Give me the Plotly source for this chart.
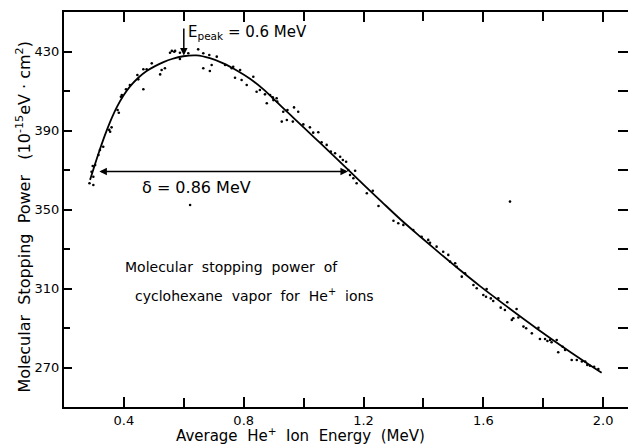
import plotly.graph_objects as go

# ---- data ----
curve_x = [0.287, 0.303, 0.320, 0.337, 0.354, 0.376, 0.398, 0.420, 0.448, 0.476,
           0.504, 0.532, 0.560, 0.598, 0.643, 0.687, 0.732, 0.777, 0.821, 0.866,
           0.910, 0.955, 1.000, 1.055, 1.111, 1.150, 1.200, 1.260, 1.322, 1.390,
           1.455, 1.520, 1.589, 1.667, 1.778, 1.889, 1.995]
curve_y = [365.0, 372.7, 380.5, 387.8, 394.4, 401.7, 407.6, 412.2, 416.7, 420.1,
           422.6, 424.6, 426.2, 427.6, 428.0, 426.6, 424.0, 420.4, 416.2, 410.8,
           404.5, 398.0, 391.6, 383.7, 375.6, 369.9, 362.6, 354.0, 345.2, 336.2,
           327.8, 319.6, 311.2, 302.2, 289.8, 278.0, 267.3]

dots_x = [0.285, 0.298, 0.298, 0.292, 0.296, 0.304, 0.315, 0.320, 0.331, 0.351,
          0.354, 0.359, 0.379, 0.383, 0.390, 0.393, 0.407, 0.420, 0.445, 0.448,
          0.465, 0.465, 0.476, 0.493, 0.521, 0.526, 0.537, 0.554, 0.560, 0.568,
          0.571, 0.587, 0.587, 0.615, 0.648, 0.665, 0.685, 0.710, 0.665, 0.687,
          0.693, 0.738, 0.760, 0.765, 0.788, 0.771, 0.793, 0.810, 0.832, 0.843,
          0.854, 0.871, 0.877, 0.888, 0.897, 0.899, 0.910, 0.912, 0.927, 0.932,
          0.944, 0.946, 0.964, 0.968, 0.982, 0.999, 1.021, 1.032, 1.049, 1.060,
          1.077, 1.091, 1.105, 1.122, 1.131, 1.142, 1.149, 1.155, 1.166, 1.172,
          1.177, 1.211, 1.231, 1.250, 1.300, 1.316, 1.333, 1.366, 1.394, 1.416,
          1.422, 1.444, 1.466, 1.483, 1.489, 1.506, 1.511, 1.528, 1.539, 1.567,
          1.578, 1.600, 1.611, 1.609, 1.625, 1.633, 1.650, 1.658, 1.672, 1.680,
          1.695, 1.700, 1.711, 1.717, 1.734, 1.743, 1.762, 1.784, 1.789, 1.806,
          1.814, 1.823, 1.828, 1.845, 1.850, 1.865, 1.873, 1.895, 1.912, 1.929,
          1.940, 1.947, 1.956, 1.970, 1.984, 0.621, 1.689]
dots_y = [363.3, 362.4, 366.6, 369.1, 372.0, 372.5, 377.6, 380.1, 381.8, 390.3,
          389.4, 391.6, 400.4, 399.0, 407.1, 408.0, 410.9, 413.0, 418.1, 415.9,
          421.0, 410.9, 421.0, 424.0, 418.4, 420.6, 421.5, 429.4, 430.3, 429.9,
          430.3, 426.2, 429.4, 429.1, 431.1, 429.1, 428.2, 427.4, 421.5, 420.1,
          423.2, 423.2, 421.5, 422.3, 420.6, 416.7, 415.6, 413.0, 417.2, 409.6,
          410.5, 408.3, 403.8, 408.0, 406.8, 405.4, 406.3, 404.6, 394.5, 399.5,
          395.3, 400.4, 394.5, 401.7, 399.5, 393.1, 391.6, 388.9, 389.1, 384.0,
          382.7, 379.3, 378.5, 376.7, 375.1, 374.2, 370.0, 367.5, 365.8, 369.6,
          363.3, 358.2, 359.5, 351.8, 344.3, 343.0, 342.2, 339.6, 336.2, 334.6,
          333.2, 331.2, 328.6, 327.0, 323.6, 322.8, 321.0, 316.0, 317.7, 311.8,
          310.1, 306.7, 309.7, 305.8, 305.0, 303.7, 305.0, 300.3, 299.1, 303.0,
          294.1, 294.9, 299.6, 295.3, 290.7, 289.9, 287.3, 290.1, 284.4, 284.4,
          283.4, 283.9, 282.8, 283.9, 277.7, 280.5, 278.9, 273.8, 273.8, 273.0,
          273.0, 271.3, 270.9, 270.4, 269.2, 352.3, 354.0]

x_tickvals = [0.4, 0.8, 1.2, 1.6, 2.0]
x_ticktext = ["0.4", "0.8", "1.2", "1.6", "2.0"]
y_tickvals = [270, 310, 350, 390, 430]
y_ticktext = ["270", "310", "350", "390", "430"]
y_all_ticks = [270, 290, 310, 330, 350, 370, 390, 410, 430, 450]

e_peak = 0.6
e_peak_val = 428.0
delta_left = 0.313
delta_right = 1.148
delta_level = 369.2

FONT = "DejaVu Sans"
X_RANGE = [0.2, 2.083]
Y_RANGE = [250, 450]

fig = go.Figure()
fig.add_trace(go.Scatter(x=dots_x, y=dots_y, mode="markers",
                         marker=dict(color="black", size=2.6),
                         hoverinfo="skip"))
fig.add_trace(go.Scatter(x=curve_x, y=curve_y, mode="lines",
                         line=dict(color="black", width=1.8, shape="spline", smoothing=1.0),
                         hoverinfo="skip"))
# invisible trace so the right-hand tick axis is drawn
fig.add_trace(go.Scatter(x=[X_RANGE[0]], y=[Y_RANGE[0]], yaxis="y2", mode="markers",
                         marker=dict(opacity=0), hoverinfo="skip"))

fig.update_layout(
    width=628, height=446,
    margin=dict(l=64, r=0, t=12, b=39, autoexpand=False),
    paper_bgcolor="white", plot_bgcolor="white",
    showlegend=False,
    font=dict(family=FONT, color="black", size=13),
    xaxis=dict(range=X_RANGE, showgrid=False, zeroline=False,
               showline=True, linecolor="black", linewidth=2, mirror="ticks",
               ticks="inside", ticklen=10, tickwidth=1.5, tickcolor="black",
               tickvals=x_tickvals, ticktext=x_ticktext,
               tickfont=dict(size=13, family=FONT),
               minor=dict(tickvals=[0.6, 1.0, 1.4, 1.8], ticks="inside",
                          ticklen=9, tickwidth=1.5, tickcolor="black")),
    yaxis=dict(range=Y_RANGE, showgrid=False, zeroline=False,
               showline=True, linecolor="black", linewidth=2,
               ticks="inside", ticklen=8, tickwidth=1.5, tickcolor="black",
               tickvals=y_tickvals, ticktext=y_ticktext,
               tickfont=dict(size=13, family=FONT),
               minor=dict(tickvals=[290, 330, 370, 410], ticks="inside",
                          ticklen=6, tickwidth=1.5, tickcolor="black")),
    yaxis2=dict(range=Y_RANGE, overlaying="y", side="right", showgrid=False,
                zeroline=False, showline=False, showticklabels=False,
                ticks="inside", ticklen=10, tickwidth=1.5, tickcolor="black",
                tickvals=y_all_ticks),
)

annotations = [
    # E_peak arrow
    dict(x=e_peak, y=e_peak_val, ax=e_peak, ay=442.4, xref="x", yref="y",
         axref="x", ayref="y", showarrow=True, arrowhead=2, arrowsize=1,
         arrowwidth=1.5, arrowcolor="black", text=""),
    dict(x=0.607, y=439.5, xref="x", yref="y", xanchor="left", yanchor="middle",
         text="E<sub>peak</sub> = 0.6 MeV", showarrow=False,
         font=dict(size=15, family=FONT)),
    # delta double arrow
    dict(x=delta_right, y=delta_level, ax=delta_left, ay=delta_level, xref="x", yref="y",
         axref="x", ayref="y", showarrow=True, arrowhead=2, startarrowhead=2,
         arrowside="end+start", arrowsize=1, arrowwidth=1.5, arrowcolor="black", text=""),
    dict(x=0.641, y=360.9, xref="x", yref="y", xanchor="center", yanchor="middle",
         text="δ = 0.86 MeV", showarrow=False, font=dict(size=16, family=FONT)),
    dict(x=0.2 + (123 - 64) / 299.5, y=450 - (267 - 12) / 1.975, xref="x", yref="y",
         xanchor="left", yanchor="middle", text="Molecular  stopping  power  of",
         showarrow=False, font=dict(size=14, family=FONT)),
    dict(x=0.2 + (133 - 64) / 299.5, y=450 - (295 - 12) / 1.975, xref="x", yref="y",
         xanchor="left", yanchor="middle", text="cyclohexane  vapor  for  He<sup>+</sup>  ions",
         showarrow=False, font=dict(size=14, family=FONT)),
    # axis titles
    dict(x=0.991, y=-0.071, xref="x", yref="paper", xanchor="center", yanchor="middle",
         text="Average  He<sup>+</sup>  Ion  Energy  (MeV)", showarrow=False,
         font=dict(size=15, family=FONT)),
    dict(x=-0.0709, y=0.482, xref="paper", yref="paper", xanchor="center", yanchor="middle",
         textangle=-90,
         text="Molecular  Stopping  Power   (10<sup>-15</sup>eV · cm<sup>2</sup>)",
         showarrow=False, font=dict(size=16, family=FONT)),
]
fig.update_layout(annotations=annotations)

fig.write_html("out.html",
               config={"displayModeBar": False},
               post_script="document.body.style.margin='0';document.body.style.padding='0';")
